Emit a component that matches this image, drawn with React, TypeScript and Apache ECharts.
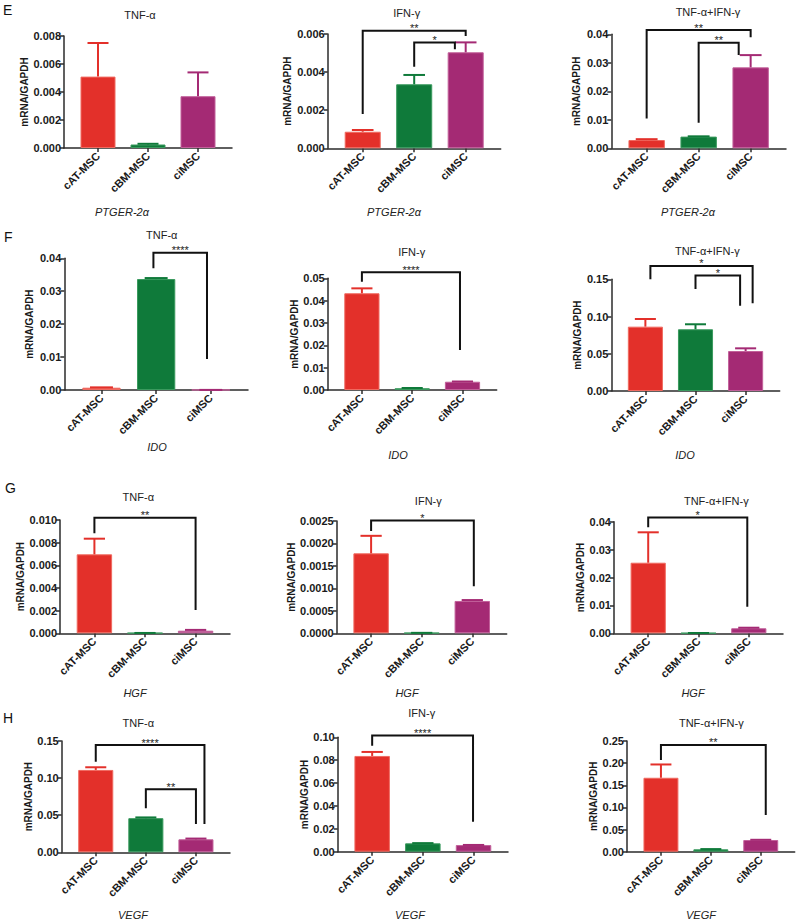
import React, { useEffect, useRef } from "react";
import * as echarts from "echarts";

// ---------- data ----------
const categories = ["cAT-MSC", "cBM-MSC", "ciMSC"];
const rowLetters = ["E", "F", "G", "H"];
const genes = ["PTGER-2α", "IDO", "HGF", "VEGF"];
const stimuli = ["TNF-α", "IFN-γ", "TNF-α+IFN-γ"];
const yName = "mRNA/GAPDH";

// PTGER-2α
const e1Values = [0.0051, 0.00025, 0.0037];
const e1Errors = [0.0024, 0.00005, 0.0017];
const e2Values = [0.00087, 0.00336, 0.00504];
const e2Errors = [0.00009, 0.00049, 0.00052];
const e3Values = [0.0029, 0.0041, 0.0284];
const e3Errors = [0.0003, 0.0001, 0.0043];
// IDO
const f1Values = [0.0007, 0.0337, 0.00003];
const f1Errors = [0.0001, 0.0003, 0];
const f2Values = [0.0433, 0.0008, 0.0037];
const f2Errors = [0.0022, 0.0001, 0.0001];
const f3Values = [0.0864, 0.0829, 0.0537];
const f3Errors = [0.0103, 0.0067, 0.0036];
// HGF
const g1Values = [0.00697, 0.00003, 0.00023];
const g1Errors = [0.00138, 0, 0.00007];
const g2Values = [0.00178, 0.00001, 0.00072];
const g2Errors = [0.00039, 0, 0.00002];
const g3Values = [0.0253, 0.0001, 0.0018];
const g3Errors = [0.0109, 0, 0.0002];
// VEGF
const h1Values = [0.111, 0.046, 0.0175];
const h1Errors = [0.0036, 0.001, 0.001];
const h2Values = [0.0837, 0.0073, 0.0058];
const h2Errors = [0.0035, 0.0002, 0.0001];
const h3Values = [0.167, 0.0054, 0.0264];
const h3Errors = [0.03, 0.0005, 0.0005];

// y-axis scales: [max, interval, decimals]
const yScales = [
  [0.008, 0.002, 3], [0.006, 0.002, 3], [0.04, 0.01, 2],
  [0.04, 0.01, 2], [0.05, 0.01, 2], [0.15, 0.05, 2],
  [0.01, 0.002, 3], [0.0025, 0.0005, 4], [0.04, 0.01, 2],
  [0.15, 0.05, 2], [0.1, 0.02, 2], [0.25, 0.05, 2],
];

// significance brackets: [fromX, toX, leftLegBottom, top, rightLegBottom]
const e2Brackets = [[0, 2, 0.0018, 0.00617, 0.0059], [1, 1.79, 0.00428, 0.00556, 0.0052]];
const e2Stars = ["**", "*"];
const e3Brackets = [[0, 2, 0.0105, 0.0415, 0.039], [1, 1.77, 0.009, 0.037, 0.0327]];
const e3Stars = ["**", "**"];
const f1Brackets = [[0.95, 1.93, 0.037, 0.0417, 0.0094]];
const f1Stars = ["****"];
const f2Brackets = [[0, 1.95, 0.0485, 0.0527, 0.0179]];
const f2Stars = ["****"];
const f3Brackets = [[0.1, 2.14, 0.15, 0.168, 0.1178], [1, 1.89, 0.137, 0.155, 0.1146]];
const f3Stars = ["*", "*"];
const g1Brackets = [[0, 2, 0.00882, 0.0102, 0.00206]];
const g1Stars = ["**"];
const g2Brackets = [[0, 2.03, 0.00228, 0.00251, 0.00105]];
const g2Stars = ["*"];
const g3Brackets = [[0, 1.97, 0.038, 0.0415, 0.0095]];
const g3Stars = ["*"];
const h1Brackets = [[0, 2.17, 0.122, 0.1446, 0.038], [1, 2, 0.0593, 0.085, 0.038]];
const h1Stars = ["****", "**"];
const h2Brackets = [[0, 1.99, 0.0927, 0.1015, 0.0262]];
const h2Stars = ["****"];
const h3Brackets = [[0, 2.1, 0.207, 0.241, 0.083]];
const h3Stars = ["**"];

const panelValues = [e1Values, e2Values, e3Values, f1Values, f2Values, f3Values, g1Values, g2Values, g3Values, h1Values, h2Values, h3Values];
const panelErrors = [e1Errors, e2Errors, e3Errors, f1Errors, f2Errors, f3Errors, g1Errors, g2Errors, g3Errors, h1Errors, h2Errors, h3Errors];
const panelBrackets = [[], e2Brackets, e3Brackets, f1Brackets, f2Brackets, f3Brackets, g1Brackets, g2Brackets, g3Brackets, h1Brackets, h2Brackets, h3Brackets];
const panelStars = [[], e2Stars, e3Stars, f1Stars, f2Stars, f3Stars, g1Stars, g2Stars, g3Stars, h1Stars, h2Stars, h3Stars];

// ---------- layout (pixels) ----------
// [axisLeft, axisRight, axisTop, axisBottom, nameGap]
const gridBoxes = [
  [64, 232, 36, 148, 35], [327.7, 500.7, 34, 148.3, 35], [611.3, 786, 34.3, 148.3, 30],
  [64.3, 248, 258.3, 390, 30], [327.7, 496.7, 278.3, 390, 27], [611.3, 779.7, 279.3, 391, 25],
  [60, 230, 520, 633.3, 31], [336.7, 506.7, 521, 633.3, 39], [614, 783, 521.7, 633.3, 25],
  [61.7, 230, 741, 852.3, 26], [337.7, 508, 737.3, 851.7, 25], [627, 794.7, 741, 851.7, 26],
];
const titlePos = [
  [140, 15], [406.7, 13], [708, 12],
  [161.7, 235], [411.7, 251.7], [707.3, 251],
  [138.3, 497.3], [428.3, 500.7], [716.3, 500.7],
  [138.3, 723.3], [421.7, 713.3], [711.3, 722.7],
];
const genePos = [
  [122, 212], [394, 212], [688, 212],
  [157, 447], [398, 455], [685, 455],
  [135, 693], [407, 693], [693, 693],
  [133, 915], [410, 915], [701, 915],
];
const letterPos = [[8, 10], [9, 237], [10, 488], [8, 718]];

const X_MIN = -0.68;
const X_MAX = 2.68;
const FONT = "'Liberation Sans', Arial, sans-serif";
const barColors = ["#E3302A", "#0F7A3A", "#A42A74"];
const barBorders = ["#F06A60", "#3A9A5E", "#C2609A"];

function buildOption() {
  const grid: any[] = [];
  const xAxis: any[] = [];
  const yAxis: any[] = [];
  const series: any[] = [];
  const graphic: any[] = [];

  for (let p = 0; p < 12; p++) {
    const [l, r, t, b, nameGap] = gridBoxes[p];
    const [yMax, yInt, dec] = yScales[p];
    const width = r - l;
    const spacing = width / (X_MAX - X_MIN);
    grid.push({ left: l, top: t, width: width, height: b - t, containLabel: false });
    xAxis.push({
      type: "value",
      gridIndex: p,
      min: X_MIN,
      max: X_MAX,
      splitLine: { show: false },
      axisLine: { show: true, onZero: false, lineStyle: { color: "#2b2b2b", width: 1.5 } },
      axisTick: { show: true, length: 4, customValues: [0, 1, 2], lineStyle: { color: "#2b2b2b", width: 1.5 } },
      axisLabel: {
        show: true,
        customValues: [0, 1, 2],
        formatter: (v: number) => categories[Math.round(v)] || "",
        rotate: 45,
        margin: 6,
        fontFamily: FONT,
        fontWeight: "bold",
        fontSize: 11,
        color: "#1a1a1a",
      },
    });
    yAxis.push({
      type: "value",
      gridIndex: p,
      min: 0,
      max: yMax,
      interval: yInt,
      name: yName,
      nameLocation: "middle",
      nameGap: nameGap,
      nameTextStyle: { fontFamily: FONT, fontWeight: "bold", fontSize: 10, color: "#1a1a1a" },
      splitLine: { show: false },
      axisLine: { show: true, onZero: false, lineStyle: { color: "#2b2b2b", width: 1.5 } },
      axisTick: { show: true, length: 4, lineStyle: { color: "#2b2b2b", width: 1.5 } },
      axisLabel: {
        formatter: (v: number) => v.toFixed(dec as number),
        margin: 3,
        fontFamily: FONT,
        fontWeight: "bold",
        fontSize: 11,
        color: "#1a1a1a",
      },
    });

    const vals = panelValues[p];
    const errs = panelErrors[p];
    series.push({
      type: "bar",
      xAxisIndex: p,
      yAxisIndex: p,
      barWidth: spacing * 0.7,
      data: vals.map((v, i) => ({
        value: [i, v],
        itemStyle: { color: barColors[i], borderColor: barBorders[i], borderWidth: 1 },
      })),
      z: 2,
    });
    series.push({
      type: "custom",
      xAxisIndex: p,
      yAxisIndex: p,
      z: 3,
      data: vals.map((v, i) => [i, v, errs[i]]),
      renderItem: (params: any, api: any) => {
        const i = api.value(0);
        const v = api.value(1);
        const e = api.value(2);
        const base = api.coord([i, v]);
        const top = api.coord([i, v + e]);
        const cl = api.coord([i - 0.21, v + e]);
        const cr = api.coord([i + 0.21, v + e]);
        const c = barColors[params.dataIndex];
        return {
          type: "group",
          children: [
            { type: "line", shape: { x1: base[0], y1: base[1], x2: top[0], y2: top[1] }, style: { stroke: c, lineWidth: 2 } },
            { type: "line", shape: { x1: cl[0], y1: cl[1], x2: cr[0], y2: cr[1] }, style: { stroke: c, lineWidth: 2 } },
          ],
        };
      },
    });
    const brs = panelBrackets[p];
    const stars = panelStars[p];
    if (brs.length) {
      series.push({
        type: "custom",
        xAxisIndex: p,
        yAxisIndex: p,
        z: 4,
        clip: false,
        data: brs,
        renderItem: (params: any, api: any) => {
          const x1 = api.value(0);
          const x2 = api.value(1);
          const yl = api.value(2);
          const yt = api.value(3);
          const yr = api.value(4);
          const a = api.coord([x1, yl]);
          const bpt = api.coord([x1, yt]);
          const c = api.coord([x2, yt]);
          const d = api.coord([x2, yr]);
          const m = api.coord([(x1 + x2) / 2, yt]);
          return {
            type: "group",
            children: [
              {
                type: "polyline",
                shape: { points: [a, bpt, c, d] },
                style: { stroke: "#111", lineWidth: 2, fill: "none" },
              },
              {
                type: "text",
                x: m[0],
                y: m[1] + 3,
                style: {
                  text: stars[params.dataIndex],
                  fontFamily: FONT,
                  fontSize: 11,
                  fill: "#222",
                  align: "center",
                  verticalAlign: "bottom",
                  textAlign: "center",
                  textVerticalAlign: "bottom",
                },
              },
            ],
          };
        },
      });
    }

    graphic.push({
      type: "text",
      x: titlePos[p][0],
      y: titlePos[p][1],
      style: {
        text: stimuli[p % 3],
        fontFamily: FONT,
        fontSize: 11,
        fill: "#222",
        align: "center",
        verticalAlign: "middle",
        textAlign: "center",
        textVerticalAlign: "middle",
      },
    });
    graphic.push({
      type: "text",
      x: genePos[p][0],
      y: genePos[p][1],
      style: {
        text: genes[Math.floor(p / 3)],
        fontFamily: FONT,
        fontSize: 11,
        fontStyle: "italic",
        fill: "#222",
        align: "center",
        verticalAlign: "middle",
        textAlign: "center",
        textVerticalAlign: "middle",
      },
    });
  }

  rowLetters.forEach((L, i) => {
    graphic.push({
      type: "text",
      x: letterPos[i][0] - 5,
      y: letterPos[i][1],
      style: {
        text: L,
        fontFamily: FONT,
        fontSize: 14,
        fill: "#111",
        align: "left",
        verticalAlign: "middle",
        textAlign: "left",
        textVerticalAlign: "middle",
      },
    });
  });

  return {
    animation: false,
    backgroundColor: "#ffffff",
    grid,
    xAxis,
    yAxis,
    series,
    graphic,
  };
}

export default function App() {
  const ref = useRef<HTMLDivElement>(null);
  useEffect(() => {
    if (!ref.current) return;
    const chart = echarts.init(ref.current, undefined, { renderer: "svg" });
    chart.setOption(buildOption() as any);
    return () => chart.dispose();
  }, []);
  return (
    <div
      ref={ref}
      style={{ position: "absolute", left: 0, top: 0, width: 798, height: 922, background: "#fff" }}
    />
  );
}
